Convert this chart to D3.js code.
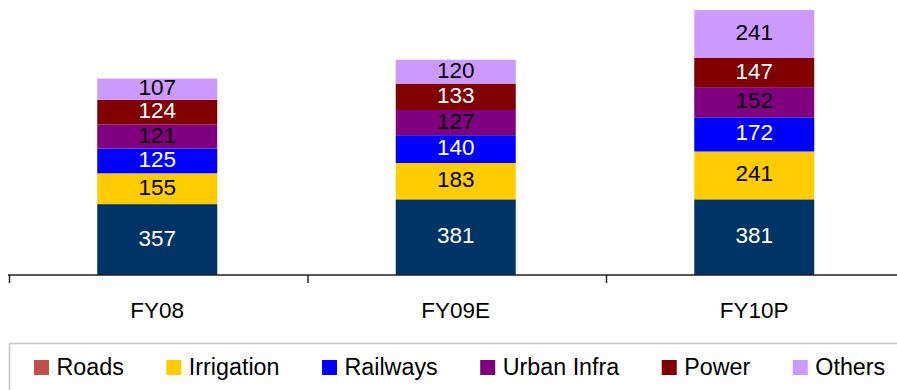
<!DOCTYPE html>
<html>
<head>
<meta charset="utf-8">
<script src="https://cdn.jsdelivr.net/npm/d3@7"></script>
<style>
  html, body { margin: 0; padding: 0; background: #fff; }
  svg { display: block; font-family: "Liberation Sans", Arial, sans-serif; }
</style>
</head>
<body>
<svg id="chart" width="897" height="390"></svg>
<script>
const categories = ["FY08", "FY09E", "FY10P"];
const seriesNames = ["Roads", "Irrigation", "Railways", "Urban Infra", "Power", "Others"];
const roads      = [357, 381, 381];
const irrigation = [155, 183, 241];
const railways   = [125, 140, 172];
const urbanInfra = [121, 127, 152];
const power      = [124, 133, 147];
const others     = [107, 120, 241];

const barColors    = ["#003366", "#FFCC00", "#0000FF", "#800080", "#800000", "#CC99FF"];
const legendColors = ["#C0504D", "#FFCC00", "#0000FF", "#800080", "#800000", "#CC99FF"];
const labelColors  = ["#ffffff", "#000000", "#ffffff", "#000000", "#ffffff", "#000000"];

const seriesValues = [roads, irrigation, railways, urbanInfra, power, others];
const table = categories.map((c, i) => {
  const row = { category: c };
  seriesNames.forEach((s, j) => row[s] = seriesValues[j][i]);
  return row;
});

const svg = d3.select("#chart");
const x = d3.scaleBand().domain(categories).range([8, 903.5]).paddingInner(0).paddingOuter(0);
const y = d3.scaleLinear().domain([0, 1400]).range([275, -3]);
const barW = 120;

const stack = d3.stack().keys(seriesNames);
const layers = stack(table);

const g = svg.append("g");
layers.forEach((layer, j) => {
  const lg = g.append("g");
  lg.selectAll("rect").data(layer).join("rect")
    .attr("x", d => x(d.data.category) + x.bandwidth() / 2 - barW / 2)
    .attr("width", barW)
    .attr("y", d => y(d[1]))
    .attr("height", d => y(d[0]) - y(d[1]))
    .attr("fill", barColors[j]);
  lg.selectAll("text").data(layer).join("text")
    .attr("x", d => x(d.data.category) + x.bandwidth() / 2)
    .attr("y", d => (y(d[0]) + y(d[1])) / 2)
    .attr("dy", "0.27em")
    .attr("text-anchor", "middle")
    .attr("font-size", 22.5)
    .attr("fill", labelColors[j])
    .text(d => d.data[layer.key]);
});

// x axis
const axisG = svg.append("g");
axisG.append("line")
  .attr("x1", x.range()[0]).attr("x2", x.range()[1])
  .attr("y1", y(0)).attr("y2", y(0))
  .attr("stroke", "#222").attr("stroke-width", 1.5);
const tickPos = categories.map(c => x(c)).concat([x.range()[1]]);
axisG.selectAll("line.tick").data(tickPos).join("line")
  .attr("class", "tick")
  .attr("x1", d => d + 1.5).attr("x2", d => d + 1.5)
  .attr("y1", y(0)).attr("y2", y(0) + 8)
  .attr("stroke", "#222").attr("stroke-width", 1.5);
axisG.selectAll("text").data(categories).join("text")
  .attr("x", d => x(d) + x.bandwidth() / 2)
  .attr("y", 318)
  .attr("text-anchor", "middle")
  .attr("font-size", 22.5)
  .attr("fill", "#000")
  .text(d => d);

// legend
const leg = svg.append("g");
leg.append("rect")
  .attr("x", 9.5).attr("y", 343.5)
  .attr("width", 900).attr("height", 60)
  .attr("fill", "none").attr("stroke", "#c8c8c8").attr("stroke-width", 1.5);
let lx = 34;
seriesNames.forEach((s, j) => {
  leg.append("rect")
    .attr("x", lx).attr("y", 360)
    .attr("width", 15).attr("height", 15)
    .attr("fill", legendColors[j]);
  const t = leg.append("text")
    .attr("x", lx + 22.5).attr("y", 374.5)
    .attr("font-size", 23.3)
    .attr("fill", "#000")
    .text(s);
  lx = lx + 22.5 + t.node().getComputedTextLength() + 42.5;
});
</script>
</body>
</html>
